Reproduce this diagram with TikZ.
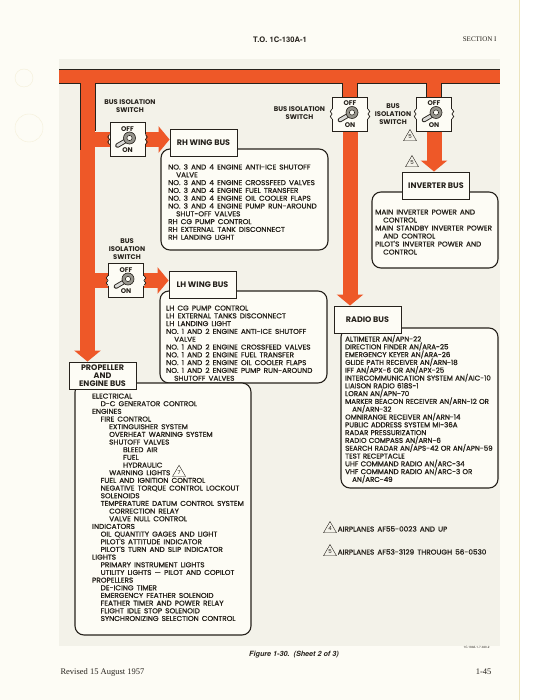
\documentclass[tikz,border=0pt]{standalone}
\usepackage{fontspec}
\setmainfont{Poppins}
\newfontfamily\listfont{Poppins}[FakeBold=1.1,FakeStretch=1.04,WordSpace=1.6]
\newfontfamily\radiofont{Poppins}[FakeBold=1.2,FakeStretch=1.01,WordSpace=1.2]
\newfontfamily\pageserif{Liberation Serif}
\newfontfamily\pagesans{TeX Gyre Heros}
\usepackage{tikz}
\usetikzlibrary{arrows.meta,positioning,shapes.geometric}
\definecolor{busorange}{RGB}{238,88,40}
\definecolor{ink}{RGB}{38,34,28}
\definecolor{paper}{RGB}{253,252,245}
\definecolor{plate}{RGB}{243,242,233}
\definecolor{nut}{RGB}{150,148,140}
\definecolor{pageedge}{RGB}{236,228,190}
\pgfdeclarelayer{back}
\pgfdeclarelayer{bars}
\pgfsetlayers{back,bars,main}

\begin{document}
\begin{tikzpicture}[x=1pt,y=-1pt,
  busbar/.style={draw=busorange,line width=15pt},
  busarrow/.style={busbar,-{Triangle[width=26pt,length=11pt]}},
  edge/.style={draw=ink,line width=0.8pt},
  swbox/.style={draw=ink,fill=paper,line width=0.9pt,minimum width=35pt,minimum height=34pt,inner sep=0pt},
  busbox/.style={draw=ink,fill=paper,line width=0.9pt,inner sep=0pt,minimum width=67pt,minimum height=27pt,
    align=center,text=ink,font=\bfseries\fontsize{8}{7.8}\selectfont},
  listbox/.style={draw=ink,fill=paper,line width=1.1pt,rounded corners=9pt},
  item/.style={anchor=west,inner sep=0pt,text height=5pt,text depth=0pt,text=ink,font=\listfont\fontsize{7}{7}\selectfont},
  raditem/.style={item,font=\radiofont\fontsize{7}{7}\selectfont},
  swlabel/.style={align=center,inner sep=0pt,text=ink,font=\bfseries\fontsize{6.8}{8}\selectfont},
  flag/.style={draw=ink,regular polygon,regular polygon sides=3,inner sep=0pt,minimum size=15pt,
    text=ink,font=\fontsize{5.5}{6}\selectfont},
  ]

\useasboundingbox (0,0) rectangle (541,700);

% page and shaded plate
\begin{pgfonlayer}{back}
  \fill[white] (0,0) rectangle (541,700);
  \fill[paper] (0,0) rectangle (519,700);
  \draw[pageedge] (519,0) -- (519,700);
  \fill[plate] (59,59) rectangle (500,646);
  \draw[pageedge!60] (24,78) circle (9);
  \draw[pageedge!60] (29,128) circle (14);
\end{pgfonlayer}

% page heading
\node[font=\pagesans\bfseries\fontsize{7.6}{9}\selectfont,text=ink] (to) at (280,40) {T.O. 1C-130A-1};
\node[font=\pageserif\fontsize{7}{9}\selectfont,text=ink,anchor=east] (sect) at (500,39) {SECTION I};

% isolation switches
\node[swbox] (rhsw) at (127.5,139.5) {};
\node[swbox] (lhsw) at (126,280.5) {};
\node[swbox] (radsw) at (350,114) {};
\node[swbox] (invsw) at (434,114) {};

\node[swlabel] (rhlab) at (130,106) {BUS ISOLATION\\SWITCH};
\node[swlabel] (lhlab) at (127,249.5) {BUS\\ISOLATION\\SWITCH};
\node[swlabel] (radlab) at (299.5,113) {BUS ISOLATION\\SWITCH};
\node[swlabel] (invlab) at (393,114) {BUS\\ISOLATION\\SWITCH};

\foreach \s in {rhsw,lhsw,radsw,invsw} {
  \node[swlabel] (\s-off) at ([yshift=-7pt]\s.north) {OFF};
  \node[swlabel] (\s-on) at ([yshift=6.5pt]\s.south) {ON};
  % toggle lever and nut
  \draw[ink,line width=4.6pt,line cap=round] ([shift={(2,-1)}]\s.center) -- ([shift={(-10,6)}]\s.center);
  \draw[nut!35,line width=2.8pt,line cap=round] ([shift={(2,-1)}]\s.center) -- ([shift={(-10,6)}]\s.center);
  \draw[ink,fill=nut,line width=0.6pt] ([shift={(2,-1.5)}]\s.center) circle (6);
  \draw[ink,fill=paper,line width=0.5pt] ([shift={(2,-1.5)}]\s.center) circle (2.6);
  % break marks on the sides
  \fill[paper] ([shift={(-0.7,-5)}]\s.west) rectangle ([shift={(0.7,5)}]\s.west);
  \fill[paper] ([shift={(-0.7,-5)}]\s.east) rectangle ([shift={(0.7,5)}]\s.east);
  \draw[ink,line width=0.7pt] ([shift={(0,-5)}]\s.west) -- ++(-1.8,2.5) -- ++(1.8,2.5) -- ++(-1.8,2.5) -- ++(1.8,2.5);
  \draw[ink,line width=0.7pt] ([shift={(0,-5)}]\s.east) -- ++(1.8,2.5) -- ++(-1.8,2.5) -- ++(1.8,2.5) -- ++(-1.8,2.5);
}

% load lists
\draw[listbox] (161,149) rectangle (328,250);
\draw[listbox] (160,291) rectangle (327,383);
\draw[listbox] (372,192) rectangle (498,268);
\draw[listbox] (341,328) rectangle (498,488);
\draw[listbox] (75,383) rectangle (251,635);

% buses
\node[busbox] (rhbus) at (203.5,142.5) {RH WING BUS};
\node[busbox] (lhbus) at (202.5,284.5) {LH WING BUS};
\node[busbox] (radbus) at (367.5,319.5) {RADIO BUS};
\node[busbox] (invbus) at (436,185.5) {INVERTER BUS};
\node[busbox] (pebus) at (102.5,375.5) {PROPELLER\\AND\\ENGINE BUS};

% RH wing bus
\foreach \d/\t [count=\i from 0] in {0/NO. 3 AND 4 ENGINE ANTI-ICE SHUTOFF, 8/VALVE,
    0/NO. 3 AND 4 ENGINE CROSSFEED VALVES, 0/NO. 3 AND 4 ENGINE FUEL TRANSFER,
    0/NO. 3 AND 4 ENGINE OIL COOLER FLAPS, 0/NO. 3 AND 4 ENGINE PUMP RUN-AROUND,
    8/SHUT-OFF VALVES, 0/RH CG PUMP CONTROL, 0/RH EXTERNAL TANK DISCONNECT, 0/RH LANDING LIGHT}
  \node[item] (rh\i) at (168+\d,167+7.8*\i) {\t};

% LH wing bus
\foreach \d/\t [count=\i from 0] in {0/LH CG PUMP CONTROL, 0/LH EXTERNAL TANKS DISCONNECT, 0/LH LANDING LIGHT,
    0/NO. 1 AND 2 ENGINE ANTI-ICE SHUTOFF, 8/VALVE, 0/NO. 1 AND 2 ENGINE CROSSFEED VALVES,
    0/NO. 1 AND 2 ENGINE FUEL TRANSFER, 0/NO. 1 AND 2 ENGINE OIL COOLER FLAPS,
    0/NO. 1 AND 2 ENGINE PUMP RUN-AROUND, 8/SHUTOFF VALVES}
  \node[item] (lh\i) at (166+\d,308+7.8*\i) {\t};

% inverter bus
\foreach \d/\t [count=\i from 0] in {0/MAIN INVERTER POWER AND, 8/CONTROL, 0/MAIN STANDBY INVERTER POWER,
    8/AND CONTROL, 0/PILOT'S INVERTER POWER AND, 8/CONTROL}
  \node[item] (inv\i) at (375+\d,212+8*\i) {\t};

% radio bus
\foreach \d/\t [count=\i from 0] in {0/{ALTIMETER AN/APN-22}, 0/{DIRECTION FINDER AN/ARA-25},
    0/{EMERGENCY KEYER AN/ARA-26}, 0/{GLIDE PATH RECEIVER AN/ARN-18}, 0/{IFF AN/APX-6 OR AN/APX-25},
    0/{INTERCOMMUNICATION SYSTEM AN/AIC-10}, 0/{LIAISON RADIO 618S-1}, 0/{LORAN AN/APN-70},
    0/{MARKER BEACON RECEIVER AN/ARN-12 OR}, 7/{AN/ARN-32}, 0/{OMNIRANGE RECEIVER AN/ARN-14},
    0/{PUBLIC ADDRESS SYSTEM MI-36A}, 0/{RADAR PRESSURIZATION}, 0/{RADIO COMPASS AN/ARN-6},
    0/{SEARCH RADAR AN/APS-42 OR AN/APN-59}, 0/{TEST RECEPTACLE}, 0/{UHF COMMAND RADIO AN/ARC-34},
    0/{VHF COMMAND RADIO AN/ARC-3 OR}, 7/{AN/ARC-49}}
  \node[raditem] (rad\i) at (345+\d,339+7.8*\i) {\t};

% propeller and engine bus
\foreach \d/\t [count=\i from 0] in {0/ELECTRICAL, 8.5/D-C GENERATOR CONTROL, 0/ENGINES, 8.5/FIRE CONTROL,
    17/EXTINGUISHER SYSTEM, 17/OVERHEAT WARNING SYSTEM, 17/SHUTOFF VALVES, 31/BLEED AIR, 31/FUEL,
    31/HYDRAULIC, 17/WARNING LIGHTS, 8.5/FUEL AND IGNITION CONTROL, 8.5/NEGATIVE TORQUE CONTROL LOCKOUT,
    8.5/SOLENOIDS, 8.5/TEMPERATURE DATUM CONTROL SYSTEM, 17/CORRECTION RELAY, 17/VALVE NULL CONTROL,
    0/INDICATORS, 8.5/OIL QUANTITY GAGES AND LIGHT, 8.5/PILOT'S ATTITUDE INDICATOR,
    8.5/PILOT'S TURN AND SLIP INDICATOR, 0/LIGHTS, 8.5/PRIMARY INSTRUMENT LIGHTS,
    8.5/UTILITY LIGHTS — PILOT AND COPILOT, 0/PROPELLERS, 8.5/DE-ICING TIMER,
    8.5/EMERGENCY FEATHER SOLENOID, 8.5/FEATHER TIMER AND POWER RELAY, 8.5/FLIGHT IDLE STOP SOLENOID,
    8.5/SYNCHRONIZING SELECTION CONTROL}
  \node[item] (pe\i) at (92+\d,396+7.67*\i) {\t};
\node[flag,right=4pt of pe10] (pe10flag) {7};

% effectivity flags
\node[flag] (invflag1) at (410,137) {5};
\node[flag] (invflag2) at (412,163) {5};
\node[flag] (n4) at (330,529) {4};
\node[item,right=3pt of n4] (n4text) {AIRPLANES AF55-0023 AND UP};
\node[flag] (n5) at (330,552) {5};
\node[item,right=3pt of n5] (n5text) {AIRPLANES AF53-3129 THROUGH 56-0530};

% bus bars
\coordinate (lbus) at (87.5,76);
\coordinate (radtop) at (350,76);
\coordinate (invtop) at (434,76);
\begin{pgfonlayer}{bars}
  \fill[busorange] (59,69) rectangle (500,83);
  \draw[busarrow] (lbus) -- (lbus |- pebus.north);
  \draw[busbar] (lbus |- rhsw) -- (rhsw.west);
  \draw[busarrow] (rhsw.east) -- (rhsw.east -| rhbus.west);
  \draw[busbar] (lbus |- lhsw) -- (lhsw.west);
  \draw[busarrow] (lhsw.east) -- (lhsw.east -| lhbus.west);
  \draw[busbar] (radtop) -- (radsw.north);
  \draw[busarrow] (radsw.south) -- (radsw.south |- radbus.north);
  \draw[busbar] (invtop) -- (invsw.north);
  \draw[busarrow] (invsw.south) -- (invsw.south |- invbus.north);
  % dark edges of the main bus
  \draw[edge] (59,69) -- (500,69);
  \draw[edge] (59,83) -- (80,83) -- (80,150);
  \draw[edge] (95,131) -- (95,83) -- (342.5,83) -- (342.5,97);
  \draw[edge] (357.5,97) -- (357.5,83) -- (426.5,83) -- (426.5,97);
  \draw[edge] (441.5,97) -- (441.5,83) -- (500,83);
\end{pgfonlayer}

% figure caption and page foot
\node[font=\pagesans\bfseries\itshape\fontsize{7.2}{9}\selectfont,text=ink] (fig) at (294,655) {Figure 1-30.\ \ (Sheet 2 of 3)};
\node[font=\pagesans\fontsize{3}{4}\selectfont,text=ink,anchor=east] (code) at (493,647) {1C-130A-1-7-040-2};
\node[font=\pageserif\fontsize{8.5}{10}\selectfont,text=ink,anchor=west] (rev) at (57,672) {Revised 15 August 1957};
\node[font=\pageserif\fontsize{8.5}{10}\selectfont,text=ink,anchor=east] (pg) at (495,672) {1-45};

\end{tikzpicture}
\end{document}
